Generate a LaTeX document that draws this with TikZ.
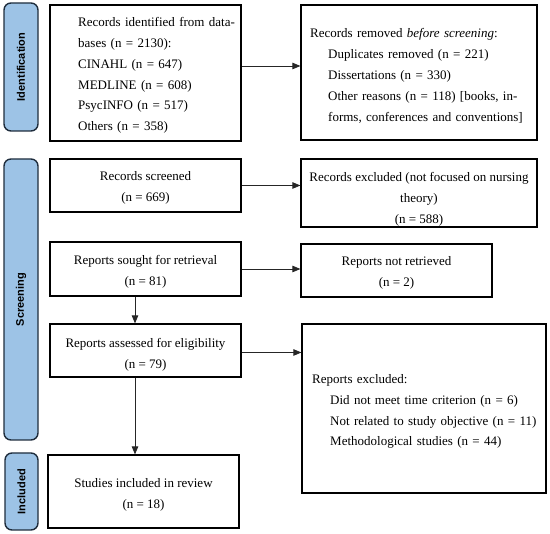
\documentclass[tikz,border=0pt]{standalone}
\usepackage{fontspec}
\setmainfont{Liberation Serif}
\newfontfamily\barfont{Liberation Sans}
\usetikzlibrary{arrows.meta}
\definecolor{barfill}{HTML}{9DC3E6}
\definecolor{barline}{HTML}{1F2D3D}
\newcommand{\boxfont}{\fontsize{13}{20.8}\selectfont}
\begin{document}
\begin{tikzpicture}[x=1pt,y=-1pt,
  stagebar/.style={draw=barline, fill=barfill, line width=1.4pt, rounded corners=7pt},
  stagelabel/.style={font=\barfont\bfseries\fontsize{11}{13}\selectfont, rotate=90},
  box/.style={draw=black, line width=1.2pt, inner sep=0pt},
  txt/.style={inner sep=0pt, align=left, font=\boxfont},
  ctxt/.style={inner sep=0pt, align=center, font=\boxfont},
  arr/.style={draw=black!85, line width=0.8pt, -{Triangle[length=8pt,width=6.5pt]}}
]
\useasboundingbox (0,0) rectangle (550,534);

% stage bars
\draw[stagebar] (4,3) rectangle (38,131);
\node[stagelabel] (lid) at (21,67) {Identification};
\draw[stagebar] (4,159) rectangle (38,440);
\node[stagelabel] (lsc) at (21,299.5) {Screening};
\draw[stagebar] (5,453) rectangle (38,530);
\node[stagelabel] (lin) at (21.5,491.5) {Included};

% identification
\node[box, minimum width=191pt, minimum height=136pt] (b1) at (145.5,73) {};
\node[txt, anchor=west, text width=154pt] (t1) at (78,75.5) {%
\makebox[153pt][s]{Records identified from data-}\\
bases (n = 2130):\\
CINAHL (n = 647)\\
MEDLINE (n = 608)\\
PsycINFO (n = 517)\\
Others (n = 358)};

\node[box, minimum width=236pt, minimum height=135pt] (b2) at (419,72.5) {};
\node[txt, anchor=west, text width=220pt] (t2) at (310,76) {%
Records removed \textit{before screening}:\\
\hspace*{18pt}Duplicates removed (n = 221)\\
\hspace*{18pt}Dissertations (n = 330)\\
\hspace*{18pt}\makebox[195pt][s]{Other reasons (n = 118) [books, in-}\\
\hspace*{18pt}forms, conferences and conventions]};

% screening
\node[box, minimum width=191pt, minimum height=53pt] (scr) at (145.5,185.5) {};
\node[ctxt] (t7) at (145.5,188) {Records screened\\(n = 669)};
\node[box, minimum width=236pt, minimum height=68pt] (exc) at (419,193) {};
\node[ctxt] (t4) at (419,199.5) {Records excluded (not focused on nursing\\theory)\\(n = 588)};
\node[box, minimum width=191pt, minimum height=54pt] (sou) at (145.5,269) {};
\node[ctxt] (t8) at (145.5,272) {Reports sought for retrieval\\(n = 81)};
\node[box, minimum width=191pt, minimum height=53pt] (nre) at (396.5,270.5) {};
\node[ctxt] (t9) at (396.5,273) {Reports not retrieved\\(n = 2)};
\node[box, minimum width=191pt, minimum height=53pt] (ass) at (145.5,350.5) {};
\node[ctxt] (t5) at (145.5,354.5) {Reports assessed for eligibility\\(n = 79)};
\node[box, minimum width=244pt, minimum height=169pt] (rex) at (424,408.5) {};
\node[txt, anchor=west, text width=228pt] (t3) at (312,411.5) {%
Reports excluded:\\
\hspace*{18pt}Did not meet time criterion (n = 6)\\
\hspace*{18pt}Not related to study objective (n = 11)\\
\hspace*{18pt}Methodological studies (n = 44)};

% included
\node[box, minimum width=191pt, minimum height=73pt] (inc) at (143.5,491.5) {};
\node[ctxt] (t6) at (143.5,494.5) {Studies included in review\\(n = 18)};

% connectors
\draw[arr] ([yshift=7pt]b1.east) -- ([yshift=7pt]b1.east -| b2.west);
\draw[arr] (scr.east) -- (scr.east -| exc.west);
\draw[arr] (sou.east) -- (sou.east -| nre.west);
\draw[arr] ([yshift=-2pt]ass.east) -- ([yshift=-2pt]ass.east -| rex.west);
\coordinate (dx) at (135,0);
\draw[arr] (dx |- sou.south) -- (dx |- ass.north);
\draw[arr] (dx |- ass.south) -- (dx |- inc.north);
\end{tikzpicture}
\end{document}
